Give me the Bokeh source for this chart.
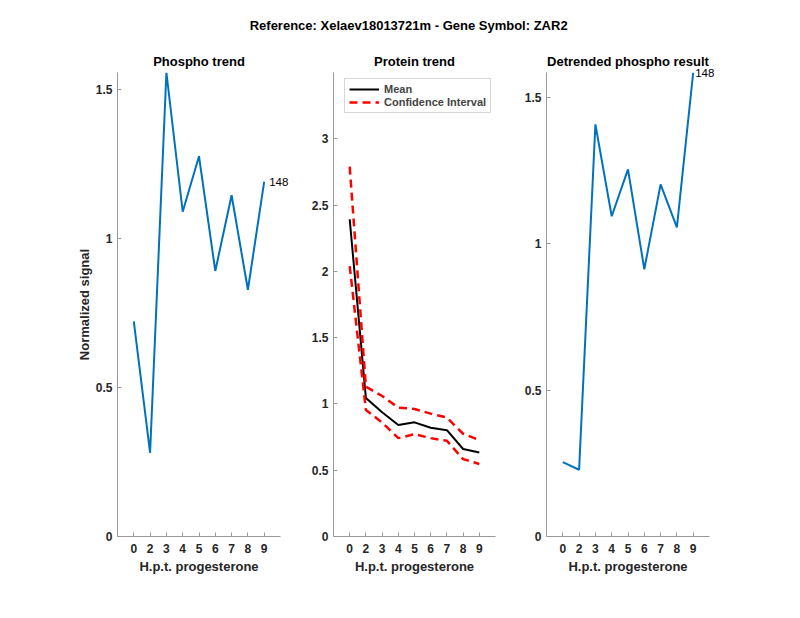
from bokeh.plotting import figure
from bokeh.models import Range1d, FixedTicker, Label, Legend, LegendItem, Title
from bokeh.layouts import column, row
from bokeh.embed import file_html
from bokeh.resources import INLINE

# ---------------- data ----------------
main_title = "Reference:  Xelaev18013721m - Gene Symbol:  ZAR2"
time_labels = ["0", "2", "3", "4", "5", "6", "7", "8", "9"]
x_pos = [1, 2, 3, 4, 5, 6, 7, 8, 9]
phospho = [0.722, 0.281, 1.557, 1.090, 1.276, 0.891, 1.145, 0.828, 1.191]
protein_mean = [2.393, 1.045, 0.937, 0.841, 0.861, 0.820, 0.802, 0.660, 0.633]
protein_upper = [2.79, 1.13, 1.06, 0.972, 0.962, 0.927, 0.897, 0.775, 0.727]
protein_lower = [2.04, 0.955, 0.86, 0.742, 0.772, 0.742, 0.722, 0.584, 0.547]
detrended = [0.254, 0.228, 1.408, 1.094, 1.254, 0.913, 1.203, 1.056, 1.585]
peptide_id = "148"
y_ticks_a = [0, 0.5, 1, 1.5]
y_ticks_b = [0, 0.5, 1, 1.5, 2, 2.5, 3]
x_label = "H.p.t. progesterone"
y_label = "Normalized signal"

FONT = "Liberation Sans"
BLUE = "#0072BD"
AXIS_COL = "#999999"
TXT_COL = "#262626"


def fmt(v):
    return ("%g" % v)


def make_panel(title, width, left, right, y_end, y_ticks, show_ylabel):
    p = figure(width=width, height=572, output_backend="svg", toolbar_location=None,
               x_range=Range1d(0, 10), y_range=Range1d(0, y_end),
               min_border_left=left, min_border_right=right,
               min_border_top=28, min_border_bottom=80)
    p.title = Title(text=title, align="center", text_font=FONT, text_font_size="13px",
                    text_font_style="bold", text_color="black", standoff=7)
    p.outline_line_color = None
    p.background_fill_color = "white"
    p.border_fill_color = "white"
    p.xgrid.visible = False
    p.ygrid.visible = False
    for ax in (p.xaxis[0], p.yaxis[0]):
        ax.axis_line_color = AXIS_COL
        ax.major_tick_line_color = AXIS_COL
        ax.minor_tick_line_color = None
        ax.major_tick_in = 4
        ax.major_tick_out = 0
        ax.major_label_text_font = FONT
        ax.major_label_text_font_size = "12px"
        ax.major_label_text_font_style = "bold"
        ax.major_label_text_color = TXT_COL
        ax.axis_label_text_font = FONT
        ax.axis_label_text_font_size = "13px"
        ax.axis_label_text_font_style = "bold"
        ax.axis_label_text_color = TXT_COL
    p.xaxis.ticker = FixedTicker(ticks=x_pos)
    p.xaxis.major_label_overrides = {x: l for x, l in zip(x_pos, time_labels)}
    p.xaxis.major_label_standoff = 7
    p.xaxis.axis_label = x_label
    p.xaxis.axis_label_standoff = 3
    p.yaxis.ticker = FixedTicker(ticks=y_ticks)
    p.yaxis.major_label_overrides = {t: fmt(t) for t in y_ticks}
    p.yaxis.major_label_standoff = 5
    if show_ylabel:
        p.yaxis.axis_label = y_label
        p.yaxis.axis_label_standoff = 1
    return p


# title strip
p0 = figure(width=798, height=44, output_backend="svg", toolbar_location=None,
            x_range=Range1d(0, 1), y_range=Range1d(0, 1),
            min_border=0)
p0.axis.visible = False
p0.grid.visible = False
p0.outline_line_color = None
p0.add_layout(Label(x=0.516, y=0.43, text=main_title, text_align="center",
                    text_baseline="middle", text_font=FONT, text_font_size="13px",
                    text_font_style="bold", text_color="black"))

# panel 1
p1 = make_panel("Phospho trend", 305, 117, 25, max(phospho), y_ticks_a, True)
p1.line(x_pos, phospho, line_color=BLUE, line_width=2)
p1.add_layout(Label(x=x_pos[-1], y=phospho[-1], text=peptide_id, x_offset=5,
                    text_baseline="middle", text_font=FONT, text_font_size="11.5px",
                    text_color="black"), "right")

# panel 2
p2 = make_panel("Protein trend", 215, 28, 25, 3.5, y_ticks_b, False)
r_mean = p2.line(x_pos, protein_mean, line_color="black", line_width=2)
r_up = p2.line(x_pos, protein_upper, line_color="red", line_width=2.5, line_dash="8 5")
r_lo = p2.line(x_pos, protein_lower, line_color="red", line_width=2.5, line_dash="8 5")
legend = Legend(items=[LegendItem(label="Mean", renderers=[r_mean]),
                       LegendItem(label="Confidence Interval", renderers=[r_up])],
                location=(11, 423))
legend.label_text_font = FONT
legend.label_text_font_size = "11px"
legend.label_text_font_style = "bold"
legend.glyph_width = 30
legend.glyph_height = 12
legend.label_height = 12
legend.label_standoff = 5
legend.spacing = 1
legend.padding = 4
legend.margin = 0
legend.border_line_color = "#b0b0b0"
legend.border_line_width = 1
legend.background_fill_alpha = 1
p2.add_layout(legend)

# panel 3
p3 = make_panel("Detrended phospho result", 278, 26, 89, max(detrended), y_ticks_a, False)
p3.line(x_pos, detrended, line_color=BLUE, line_width=2)
p3.add_layout(Label(x=x_pos[-1], y=detrended[-1], text=peptide_id, x_offset=2,
                    text_baseline="middle", text_font=FONT, text_font_size="11.5px",
                    text_color="black"), "right")

layout = column(p0, row(p1, p2, p3, spacing=0), spacing=0)
open("out.html", "w").write(file_html(layout, INLINE))
